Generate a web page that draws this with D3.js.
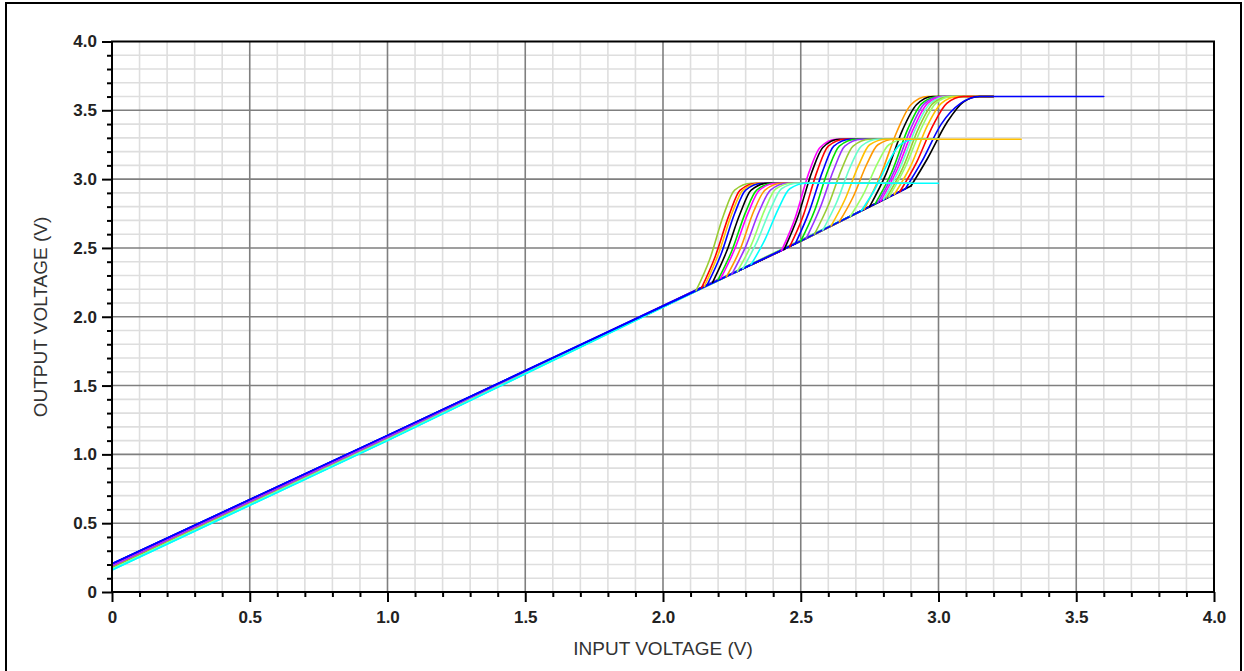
<!DOCTYPE html>
<html>
<head>
<meta charset="utf-8">
<script src="https://cdn.jsdelivr.net/npm/d3@7"></script>
<style>
    body { margin: 0; background: #fff; }
    .tick-label { font-family: Arial, "Liberation Sans", sans-serif; font-size: 17px; font-weight: bold; fill: #222; }
    .axis-title { font-family: Arial, "Liberation Sans", sans-serif; font-size: 19px; fill: #333; }
</style>
</head>
<body>
<svg width="1244" height="671"></svg>
<script>
// **** Data ****

var xTicks = [0, 0.5, 1.0, 1.5, 2.0, 2.5, 3.0, 3.5, 4.0];
var xTickLabels = ['0', '0.5', '1.0', '1.5', '2.0', '2.5', '3.0', '3.5', '4.0'];
var yTicks = [0, 0.5, 1.0, 1.5, 2.0, 2.5, 3.0, 3.5, 4.0];
var yTickLabels = ['0', '0.5', '1.0', '1.5', '2.0', '2.5', '3.0', '3.5', '4.0'];

var partColors = {
    blue: '#0000ff', magenta: '#ff00ff', red: '#ff0000', black: '#000000',
    purple: '#9933ff', orange: '#ff9900', gold: '#ffc000', olive: '#99cc33',
    green: '#00e000', lightgreen: '#99ff66', aqua: '#66ffcc', cyan: '#00ffff'
};

// start of the linear ramp for each part (input V, output V)
var rampStart = {
    blue:       [[0, 0.205], [1.0, 1.138]],
    magenta:    [[0, 0.195], [1.0, 1.130]],
    red:        [[0, 0.190], [1.0, 1.125]],
    black:      [[0, 0.190], [1.0, 1.125]],
    purple:     [[0, 0.188], [1.0, 1.123]],
    orange:     [[0, 0.185], [1.0, 1.120]],
    gold:       [[0, 0.180], [1.0, 1.117]],
    olive:      [[0, 0.176], [1.0, 1.114]],
    green:      [[0, 0.172], [1.0, 1.110]],
    lightgreen: [[0, 0.170], [1.0, 1.108]],
    aqua:       [[0, 0.166], [1.0, 1.105]],
    cyan:       [[0, 0.160], [1.0, 1.100]]
};

// output limited at 2.97 V, input swept to 3.0 V
var limit297 = [
    ['olive',      [[2.12, 2.19], [2.17, 2.42], [2.22, 2.74], [2.26, 2.92], [2.32, 2.97], [2.9, 2.97]]],
    ['red',        [[2.14, 2.21], [2.19, 2.44], [2.24, 2.74], [2.28, 2.92], [2.34, 2.97], [2.9, 2.97]]],
    ['gold',       [[2.15, 2.22], [2.20, 2.45], [2.25, 2.75], [2.29, 2.92], [2.35, 2.97], [2.9, 2.97]]],
    ['blue',       [[2.16, 2.23], [2.21, 2.45], [2.26, 2.75], [2.30, 2.92], [2.36, 2.97], [2.9, 2.97]]],
    ['black',      [[2.18, 2.25], [2.23, 2.47], [2.28, 2.75], [2.32, 2.92], [2.38, 2.97], [2.9, 2.97]]],
    ['green',      [[2.20, 2.27], [2.25, 2.48], [2.30, 2.76], [2.34, 2.92], [2.40, 2.97], [2.9, 2.97]]],
    ['magenta',    [[2.21, 2.28], [2.26, 2.49], [2.31, 2.76], [2.35, 2.92], [2.41, 2.97], [2.9, 2.97]]],
    ['orange',     [[2.23, 2.29], [2.28, 2.49], [2.33, 2.77], [2.37, 2.92], [2.43, 2.97], [2.9, 2.97]]],
    ['purple',     [[2.25, 2.31], [2.30, 2.51], [2.35, 2.77], [2.39, 2.92], [2.45, 2.97], [2.9, 2.97]]],
    ['lightgreen', [[2.27, 2.33], [2.32, 2.52], [2.37, 2.78], [2.41, 2.93], [2.47, 2.97], [2.9, 2.97]]],
    ['aqua',       [[2.29, 2.35], [2.34, 2.54], [2.39, 2.78], [2.43, 2.93], [2.49, 2.97], [2.9, 2.97]]],
    ['cyan',       [[2.32, 2.38], [2.37, 2.56], [2.42, 2.79], [2.46, 2.93], [2.52, 2.97], [3.0, 2.97]]]
];

// output limited at 3.29 V, input swept to 3.3 V
var limit329 = [
    ['magenta',    [[2.1, 2.17], [2.43, 2.48], [2.48, 2.72], [2.53, 3.05], [2.57, 3.23], [2.63, 3.29], [3.0, 3.29]]],
    ['black',      [[2.1, 2.17], [2.44, 2.49], [2.49, 2.73], [2.54, 3.05], [2.58, 3.23], [2.64, 3.29], [3.0, 3.29]]],
    ['red',        [[2.1, 2.17], [2.46, 2.51], [2.51, 2.74], [2.56, 3.06], [2.60, 3.24], [2.66, 3.29], [3.0, 3.29]]],
    ['blue',       [[2.1, 2.17], [2.48, 2.53], [2.53, 2.76], [2.58, 3.06], [2.62, 3.24], [2.68, 3.29], [3.0, 3.29]]],
    ['green',      [[2.1, 2.17], [2.50, 2.55], [2.55, 2.77], [2.60, 3.07], [2.64, 3.24], [2.70, 3.29], [3.0, 3.29]]],
    ['purple',     [[2.1, 2.17], [2.52, 2.57], [2.57, 2.79], [2.62, 3.07], [2.66, 3.24], [2.72, 3.29], [3.0, 3.29]]],
    ['olive',      [[2.1, 2.17], [2.55, 2.60], [2.60, 2.81], [2.65, 3.08], [2.69, 3.24], [2.75, 3.29], [3.0, 3.29]]],
    ['aqua',       [[2.1, 2.17], [2.58, 2.63], [2.63, 2.83], [2.68, 3.09], [2.72, 3.24], [2.78, 3.29], [3.0, 3.29]]],
    ['orange',     [[2.1, 2.17], [2.64, 2.69], [2.69, 2.87], [2.74, 3.11], [2.78, 3.25], [2.84, 3.29], [3.0, 3.29]]],
    ['lightgreen', [[2.1, 2.17], [2.68, 2.73], [2.73, 2.90], [2.78, 3.12], [2.82, 3.25], [2.88, 3.29], [3.0, 3.29]]],
    ['cyan',       [[2.1, 2.17], [2.72, 2.77], [2.77, 2.93], [2.82, 3.13], [2.86, 3.25], [2.92, 3.29], [3.0, 3.29]]],
    ['gold',       [[2.1, 2.17], [2.61, 2.66], [2.66, 2.85], [2.71, 3.10], [2.75, 3.25], [2.81, 3.29], [3.3, 3.29]]]
];

// output limited at 3.6 V, input swept to 3.2 V (last part to 3.6 V)
var limit360 = [
    ['orange',     [[2.1, 2.17], [2.5, 2.55], [2.73, 2.78], [2.79, 3.03], [2.85, 3.35], [2.90, 3.54], [2.96, 3.60], [3.2, 3.60]]],
    ['black',      [[2.1, 2.17], [2.5, 2.55], [2.75, 2.80], [2.81, 3.04], [2.87, 3.36], [2.92, 3.54], [2.98, 3.60], [3.2, 3.60]]],
    ['green',      [[2.1, 2.17], [2.5, 2.55], [2.77, 2.82], [2.83, 3.05], [2.89, 3.37], [2.94, 3.55], [3.00, 3.60], [3.2, 3.60]]],
    ['purple',     [[2.1, 2.17], [2.5, 2.55], [2.78, 2.83], [2.84, 3.06], [2.90, 3.37], [2.95, 3.55], [3.01, 3.60], [3.2, 3.60]]],
    ['magenta',    [[2.1, 2.17], [2.5, 2.55], [2.79, 2.84], [2.85, 3.07], [2.91, 3.37], [2.96, 3.55], [3.02, 3.60], [3.2, 3.60]]],
    ['aqua',       [[2.1, 2.17], [2.5, 2.55], [2.80, 2.85], [2.86, 3.08], [2.92, 3.38], [2.97, 3.55], [3.03, 3.60], [3.2, 3.60]]],
    ['olive',      [[2.1, 2.17], [2.5, 2.55], [2.81, 2.86], [2.87, 3.08], [2.93, 3.38], [2.98, 3.55], [3.04, 3.60], [3.2, 3.60]]],
    ['lightgreen', [[2.1, 2.17], [2.5, 2.55], [2.82, 2.87], [2.88, 3.09], [2.94, 3.38], [2.99, 3.55], [3.05, 3.60], [3.2, 3.60]]],
    ['gold',       [[2.1, 2.17], [2.5, 2.55], [2.84, 2.89], [2.90, 3.10], [2.96, 3.39], [3.01, 3.55], [3.07, 3.60], [3.2, 3.60]]],
    ['red',        [[2.1, 2.17], [2.5, 2.55], [2.86, 2.91], [2.92, 3.12], [2.98, 3.39], [3.03, 3.55], [3.09, 3.60], [3.2, 3.60]]],
    ['black',      [[2.1, 2.17], [2.5, 2.55], [2.90, 2.95], [2.96, 3.15], [3.03, 3.41], [3.09, 3.56], [3.15, 3.60], [3.2, 3.60]]],
    ['blue',       [[2.1, 2.17], [2.5, 2.55], [2.88, 2.93], [2.94, 3.13], [3.01, 3.40], [3.08, 3.55], [3.15, 3.60], [3.6, 3.60]]]
];

// **** Scales, grid and axes ****

var xScale = d3.scaleLinear().domain([0, 4]).range([112, 1214]);
var yScale = d3.scaleLinear().domain([0, 4]).range([592, 41.5]);

var svg = d3.select('svg');

// outer frame of the figure
svg.append('rect')
    .attr('x', 6).attr('y', 3)
    .attr('width', 1235).attr('height', 690)
    .attr('fill', 'none').attr('stroke', '#000').attr('stroke-width', 2);

var minorVals = d3.range(1, 40).map(function(i) { return i / 10; })
    .filter(function(v) { return Math.round(v * 10) % 5 !== 0; });

var grid = svg.append('g').attr('class', 'grid');

grid.selectAll('.vminor').data(minorVals).enter().append('line')
    .attr('x1', function(d) { return xScale(d); }).attr('x2', function(d) { return xScale(d); })
    .attr('y1', yScale(0)).attr('y2', yScale(4))
    .attr('stroke', '#dedede').attr('stroke-width', 1.6);

grid.selectAll('.hminor').data(minorVals).enter().append('line')
    .attr('y1', function(d) { return yScale(d); }).attr('y2', function(d) { return yScale(d); })
    .attr('x1', xScale(0)).attr('x2', xScale(4))
    .attr('stroke', '#dedede').attr('stroke-width', 1.6);

grid.selectAll('.vmajor').data(xTicks.slice(1, -1)).enter().append('line')
    .attr('x1', function(d) { return xScale(d); }).attr('x2', function(d) { return xScale(d); })
    .attr('y1', yScale(0)).attr('y2', yScale(4))
    .attr('stroke', '#7f7f7f').attr('stroke-width', 1.6);

grid.selectAll('.hmajor').data(yTicks.slice(1, -1)).enter().append('line')
    .attr('y1', function(d) { return yScale(d); }).attr('y2', function(d) { return yScale(d); })
    .attr('x1', xScale(0)).attr('x2', xScale(4))
    .attr('stroke', '#7f7f7f').attr('stroke-width', 1.6);

// **** The curves ****

// the ramp is drawn straight, the step up to the limit is smoothed
var rampLine = d3.line()
    .x(function(d) { return xScale(d[0]); })
    .y(function(d) { return yScale(d[1]); });

var riseLine = d3.line()
    .x(function(d) { return xScale(d[0]); })
    .y(function(d) { return yScale(d[1]); })
    .curve(d3.curveMonotoneX);

// index of the point where the curve leaves the ramp
function kneeIndex(pts) {
    for (var i = 1; i < pts.length; i++) {
        var slope = (pts[i][1] - pts[i - 1][1]) / (pts[i][0] - pts[i - 1][0]);
        if (slope > 2) return i - 1;
    }
    return pts.length - 1;
}

function fullPoints(d) {
    return rampStart[d[0]].concat(d[1]);
}

var allCurves = limit360.concat(limit329, limit297);

// ramps first, blue parts drawn on top of the bundle
var rampOrder = allCurves.filter(function(d) { return d[0] !== 'blue'; })
    .concat(allCurves.filter(function(d) { return d[0] === 'blue'; }));

svg.append('g').attr('class', 'ramps')
    .attr('fill', 'none')
    .attr('stroke-width', 1.6)
    .attr('stroke-linejoin', 'round')
    .attr('stroke-linecap', 'round')
    .selectAll('path')
    .data(rampOrder)
    .enter()
    .append('path')
    .attr('stroke', function(d) { return partColors[d[0]]; })
    .attr('d', function(d) {
        var pts = fullPoints(d);
        return rampLine(pts.slice(0, kneeIndex(pts) + 1));
    });

svg.append('g').attr('class', 'rises')
    .attr('fill', 'none')
    .attr('stroke-width', 1.6)
    .attr('stroke-linejoin', 'round')
    .attr('stroke-linecap', 'round')
    .selectAll('path')
    .data(allCurves)
    .enter()
    .append('path')
    .attr('stroke', function(d) { return partColors[d[0]]; })
    .attr('d', function(d) {
        var pts = fullPoints(d);
        return riseLine(pts.slice(kneeIndex(pts)));
    });

// plot frame
svg.append('rect')
    .attr('x', xScale(0)).attr('y', yScale(4))
    .attr('width', xScale(4) - xScale(0)).attr('height', yScale(0) - yScale(4))
    .attr('fill', 'none').attr('stroke', '#000').attr('stroke-width', 2);

// minor ticks
svg.append('g').attr('transform', 'translate(0,' + yScale(0) + ')')
    .call(d3.axisBottom(xScale).tickValues(minorVals).tickSize(5).tickFormat(''))
    .call(function(g) { g.select('.domain').remove(); g.selectAll('line').attr('stroke-width', 2); });

svg.append('g').attr('transform', 'translate(' + xScale(0) + ',0)')
    .call(d3.axisLeft(yScale).tickValues(minorVals).tickSize(5).tickFormat(''))
    .call(function(g) { g.select('.domain').remove(); g.selectAll('line').attr('stroke-width', 2); });

// major ticks with labels
svg.append('g').attr('class', 'x axis')
    .attr('transform', 'translate(0,' + yScale(0) + ')')
    .call(d3.axisBottom(xScale).tickValues(xTicks).tickSize(10).tickPadding(9)
        .tickFormat(function(d, i) { return xTickLabels[i]; }))
    .call(function(g) {
        g.select('.domain').remove();
        g.selectAll('line').attr('stroke-width', 2);
        g.selectAll('text').attr('class', 'tick-label').attr('font-size', null).attr('font-family', null);
    });

svg.append('g').attr('class', 'y axis')
    .attr('transform', 'translate(' + xScale(0) + ',0)')
    .call(d3.axisLeft(yScale).tickValues(yTicks).tickSize(10).tickPadding(5)
        .tickFormat(function(d, i) { return yTickLabels[i]; }))
    .call(function(g) {
        g.select('.domain').remove();
        g.selectAll('line').attr('stroke-width', 2);
        g.selectAll('text').attr('class', 'tick-label').attr('font-size', null).attr('font-family', null);
    });

// axis titles
svg.append('text')
    .attr('class', 'axis-title')
    .attr('x', 663).attr('y', 655)
    .attr('text-anchor', 'middle')
    .text('INPUT VOLTAGE (V)');

svg.append('text')
    .attr('class', 'axis-title')
    .attr('transform', 'translate(47,317) rotate(-90)')
    .attr('text-anchor', 'middle')
    .text('OUTPUT VOLTAGE (V)');
</script>
</body>
</html>
